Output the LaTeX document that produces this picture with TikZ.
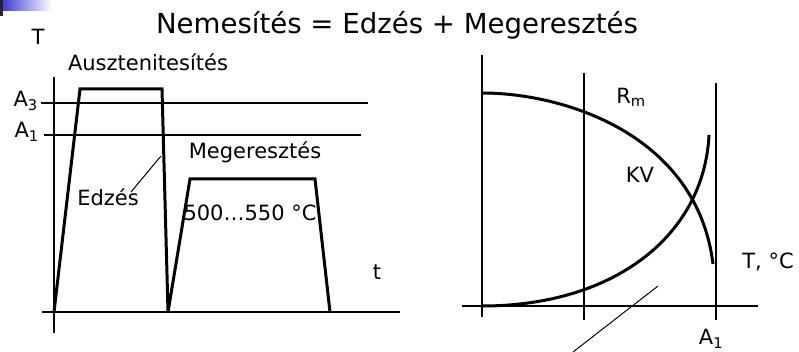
\documentclass[tikz,border=0pt]{standalone}
\usepackage{fontspec}
\setmainfont{DejaVu Sans}
\definecolor{slideblue}{HTML}{3535CF}
\begin{document}
\begin{tikzpicture}[x=1pt,y=-1pt,
  thin line/.style={line width=1.3pt},
  thick line/.style={line width=3pt, line join=miter},
  lbl/.style={inner sep=0pt, font=\fontsize{21}{24}\selectfont},
  ttl/.style={inner sep=0pt, font=\fontsize{27.6}{32}\selectfont}]
\useasboundingbox (0,0) rectangle (799,352);
% slide decoration
\shade[left color=slideblue, right color=white] (0,0) rectangle (52,11);
\fill[black!85] (0,0) rectangle (3,16);
% title
\node[ttl] (title) at (397,25) {Nemesítés = Edzés + Megeresztés};
% ---------- left diagram ----------
\coordinate (Ttop) at (54,77);
\coordinate (Tbot) at (54,333);
\coordinate (tl) at (42,312);
\coordinate (tr) at (400,312);
\draw[thin line] (Ttop) -- (Tbot);
\draw[thin line] (tl) -- (tr);
\coordinate (A3l) at (41,103);
\coordinate (A3r) at (368,103);
\coordinate (A1l) at (44,135);
\coordinate (A1r) at (361,135);
\draw[thin line] (A3l) -- (A3r);
\draw[thin line] (A1l) -- (A1r);
\node[lbl, anchor=east] (A3) at (38,101) {A\textsubscript{3}};
\node[lbl, anchor=east] (A1) at (39,132) {A\textsubscript{1}};
\node[lbl] (T) at (38,37) {T};
\node[lbl] (t) at (377,272) {t};
\node[lbl] (aus) at (148,62) {Ausztenitesítés};
\node[lbl] (meg) at (255,152) {Megeresztés};
\node[lbl] (edz) at (108,197) {Edzés};
\node[lbl] (temp) at (250,213) {500…550 °C};
% heat treatment curve
\coordinate (p0) at (54,312);
\coordinate (p1) at (80,89);
\coordinate (p2) at (162,89);
\coordinate (p3) at (168,312);
\coordinate (p4) at (190,179);
\coordinate (p5) at (315,179);
\coordinate (p6) at (330,312);
\draw[thick line] (p0) -- (p1) -- (p2) -- (p3) -- (p4) -- (p5) -- (p6);
\coordinate (edzA) at (161,156);
\coordinate (edzB) at (131,192);
\draw[line width=1pt] (edzA) -- (edzB);
% ---------- right diagram ----------
\coordinate (v1t) at (482,55);
\coordinate (v1b) at (482,317);
\coordinate (v2t) at (584,73);
\coordinate (v2b) at (584,320);
\coordinate (v3t) at (716,83);
\coordinate (v3b) at (716,320);
\coordinate (hl) at (462,306);
\coordinate (hr) at (758,306);
\draw[thin line] (v1t) -- (v1b);
\draw[thin line] (v2t) -- (v2b);
\draw[thin line] (v3t) -- (v3b);
\draw[thin line] (hl) -- (hr);
\coordinate (rm0) at (482,93);
\coordinate (rm1) at (713,264);
\coordinate (kv0) at (482,306);
\coordinate (kv1) at (709,135);
\draw[thick line] (rm0) .. controls (565,93) and (697,135) .. (rm1);
\draw[thick line] (kv0) .. controls (615,306) and (704,235) .. (kv1);
\node[lbl] (Rm) at (631,97) {R\textsubscript{m}};
\node[lbl] (KV) at (640,175) {KV};
\node[lbl] (TC) at (768,262) {T, °C};
\node[lbl] (A1r) at (711,339) {A\textsubscript{1}};
\coordinate (s0) at (573,352);
\coordinate (s1) at (658,286);
\draw[line width=1pt] (s0) -- (s1);
\end{tikzpicture}
\end{document}
